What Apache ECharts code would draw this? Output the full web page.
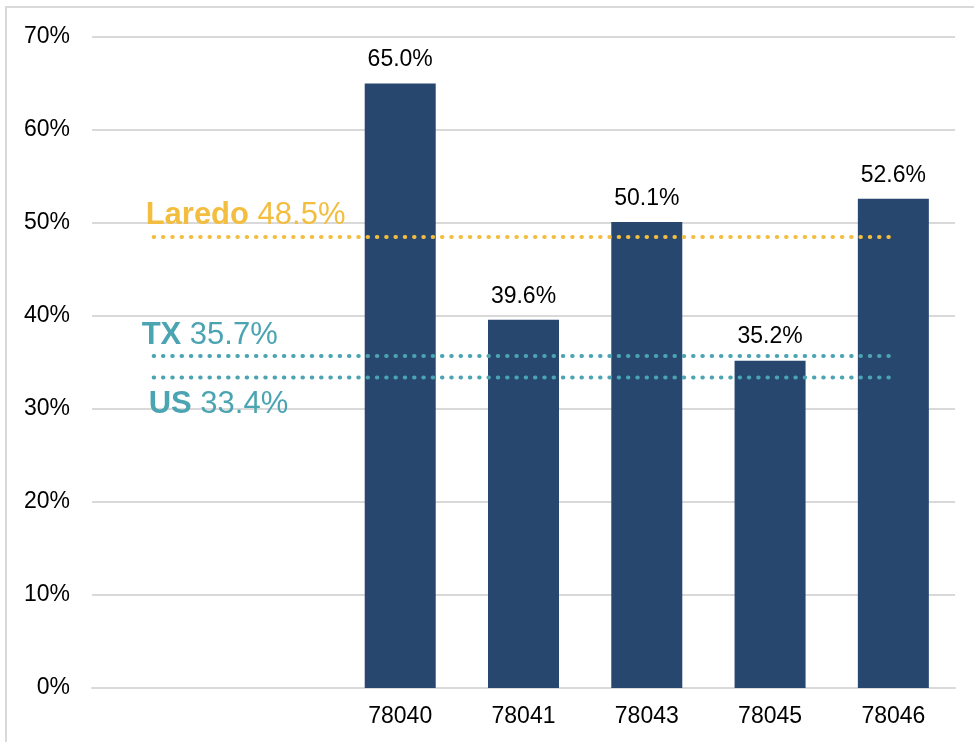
<!DOCTYPE html>
<html lang="en">
<head>
<meta charset="UTF-8">
<title>Chart</title>
<script src="https://cdn.jsdelivr.net/npm/echarts@6/dist/echarts.min.js"></script>
<style>
  html, body { margin: 0; padding: 0; background: #fff; }
  #main { width: 974px; height: 742px; }
</style>
</head>
<body>
<div id="main"></div>
<script>
// data
var categories = ['', '', '78040', '78041', '78043', '78045', '78046'];
var barValues = [null, null, 65.0, 39.6, 50.1, 35.2, 52.6];
var yTicks = [0, 10, 20, 30, 40, 50, 60, 70];
var refNames = ['Laredo', 'TX', 'US'];
var refValues = [48.5, 35.7, 33.4];
var refColors = ['#F3BD3F', '#4AA4B1', '#4AA4B1'];
var refLabelPos = ['top', 'top', 'bottom'];
var refLabelShift = [-8, -12, -5];

var font = 'Liberation Sans, Arial, sans-serif';

// reference lines, label only on the first point
var refSeries = refNames.map(function (name, i) {
  var data = categories.map(function (c, j) {
    if (j === 0) {
      return {
        value: refValues[i],
        label: {
          show: true,
          position: refLabelPos[i],
          align: 'left',
          distance: refLabelPos[i] === 'top' ? 5 : 11,
          offset: [refLabelShift[i], 0],
          formatter: '{b|' + name + '}{v|\u00a0' + refValues[i].toFixed(1) + '%}',
          rich: {
            b: { fontFamily: font, fontSize: 31, fontWeight: 'bold', color: refColors[i], lineHeight: 31 },
            v: { fontFamily: font, fontSize: 31, color: refColors[i], lineHeight: 31 }
          }
        }
      };
    }
    return refValues[i];
  });
  return {
    name: name,
    type: 'line',
    data: data,
    z: 5,
    symbol: 'circle',
    symbolSize: 1,
    showSymbol: true,
    itemStyle: { color: 'rgba(0,0,0,0)' },
    lineStyle: { color: refColors[i], width: 4, type: [0.5, 8.8], cap: 'round' },
    silent: true
  };
});

var myChart = echarts.init(document.getElementById('main'));
var option = {
  animation: false,
  backgroundColor: '#fff',
  graphic: [{
    type: 'rect',
    shape: { x: 6, y: 7, width: 1000, height: 1000 },
    style: { fill: 'none', stroke: '#d9d9d9', lineWidth: 2 },
    silent: true
  }],
  grid: { left: 92, right: 19, top: 37, bottom: 54 },
  xAxis: {
    type: 'category',
    data: categories,
    axisLine: { show: true, lineStyle: { color: '#d9d9d9', width: 2 } },
    axisTick: { show: false },
    axisLabel: { fontFamily: font, fontSize: 23, color: '#000', margin: 17, interval: 0 }
  },
  yAxis: {
    type: 'value',
    min: yTicks[0],
    max: yTicks[yTicks.length - 1],
    interval: 10,
    axisLine: { show: false },
    axisTick: { show: false },
    splitLine: { lineStyle: { color: '#d9d9d9', width: 2 } },
    axisLabel: { fontFamily: font, fontSize: 23, color: '#000', margin: 22, formatter: '{value}%' }
  },
  series: [{
    type: 'bar',
    data: barValues,
    barWidth: 71,
    itemStyle: { color: '#27476F' },
    label: {
      show: true,
      position: 'top',
      distance: 12,
      fontFamily: font,
      fontSize: 23,
      color: '#000',
      formatter: function (p) { return p.value.toFixed(1) + '%'; }
    }
  }].concat(refSeries)
};
myChart.setOption(option);
</script>
</body>
</html>
